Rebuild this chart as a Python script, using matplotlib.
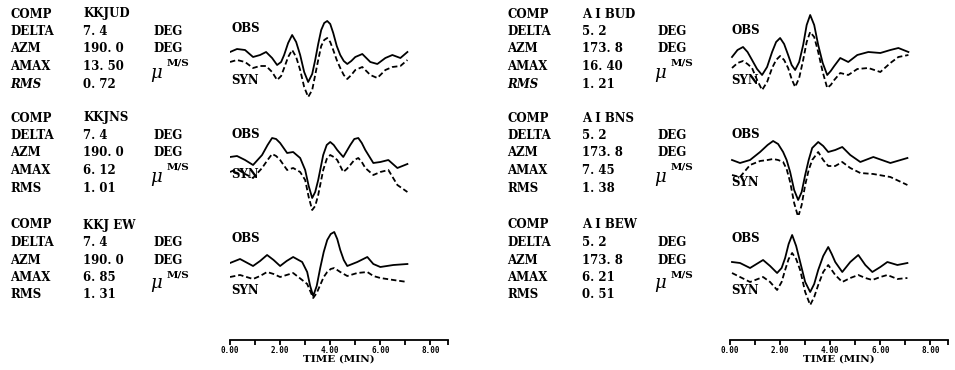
import matplotlib
matplotlib.use("Agg")
import matplotlib.pyplot as plt

# --- station header values -------------------------------------------------
comp_left = ["KKJUD", "KKJNS", "KKJ EW"]
delta_left = ["7. 4", "7. 4", "7. 4"]
azm_left = ["190. 0", "190. 0", "190. 0"]
amax_left = ["13. 50", "6. 12", "6. 85"]
rms_left = ["0. 72", "1. 01", "1. 31"]

comp_right = ["A I BUD", "A I BNS", "A I BEW"]
delta_right = ["5. 2", "5. 2", "5. 2"]
azm_right = ["173. 8", "173. 8", "173. 8"]
amax_right = ["16. 40", "7. 45", "6. 21"]
rms_right = ["1. 21", "1. 38", "0. 51"]

# time axis (minutes)
tick_major = [0, 2, 4, 6, 8]
tick_minor = [1, 3, 5, 7]
tick_labels = ["0.00", "2.00", "4.00", "6.00", "8.00"]

# --- waveforms (time in min, amplitude in arbitrary units) ---
t_kkjud = [0, 0.28, 0.6, 0.92, 1.2, 1.44, 1.68, 1.88, 2.04, 2.16, 2.32, 2.48, 2.64, 2.80,
           2.96, 3.12, 3.28, 3.40, 3.52, 3.64, 3.76, 3.88, 4.0, 4.12, 4.26, 4.40, 4.54,
           4.68, 4.84, 5.0, 5.28, 5.6, 5.88, 6.2, 6.48, 6.8, 7.08]
obs_kkjud = [0, 3, 2, -5, -3, 0, -6, -13, -10, -3, 9, 17, 10, -3,
             -20, -30, -22, -8, 8, 22, 29, 31, 28, 19, 6, -3, -9,
             -12, -9, -5, -2, -10, -12, -6, -3, -6, 0]
syn_kkjud = [0, 2, 0, -6, -4, -4, -10, -18, -14, -6, 5, 12, 5, -8,
             -25, -35, -28, -13, 2, 16, 22, 24, 20, 12, 2, -6, -13,
             -17, -13, -8, -5, -13, -16, -8, -5, -4, 2]

t_kkjns = [0, 0.28, 0.6, 0.92, 1.28, 1.5, 1.68, 1.84, 2.0, 2.28, 2.52, 2.8, 3.0, 3.14,
           3.28, 3.4, 3.52, 3.72, 3.86, 4.0, 4.14, 4.28, 4.52, 4.66, 4.8, 4.96, 5.12,
           5.26, 5.4, 5.72, 6.0, 6.32, 6.68, 7.08]
obs_kkjns = [3, 4, 0, -5, 5, 15, 22, 21, 17, 7, 8, 2, -10, -26,
             -38, -32, -20, 5, 15, 18, 15, 10, 3, 9, 15, 21, 22,
             17, 10, -3, -2, 0, -8, -4]
syn_kkjns = [0, 3, -2, -6, 4, 12, 18, 16, 12, 2, 4, 0, -8, -25,
             -38, -34, -23, 2, 13, 17, 15, 12, 0, 3, 7, 12, 14,
             10, 4, -3, 0, 2, -13, -20]

t_kkjew = [0, 0.4, 0.92, 1.2, 1.48, 1.74, 2.0, 2.26, 2.52, 2.88, 3.08, 3.2, 3.32, 3.46,
           3.6, 3.74, 3.88, 4.02, 4.16, 4.28, 4.4, 4.54, 4.68, 5.08, 5.48, 5.72, 6.0,
           6.52, 7.08]
obs_kkjew = [1, 5, -2, 3, 9, 4, -2, 3, 7, 2, -8, -22, -32, -22,
             -4, 12, 24, 30, 32, 25, 14, 4, -2, 2, 7, 0, -3,
             -1, 0]
syn_kkjew = [0, 2, -2, 1, 5, 3, 0, 2, 4, -3, -7, -14, -21, -16,
             -8, 0, 5, 8, 9, 7, 5, 3, 1, 4, 5, 1, -1,
             -3, -5]

t_aibud = [0.08, 0.3, 0.52, 0.7, 0.88, 1.08, 1.28, 1.48, 1.68, 1.84, 2.0, 2.16, 2.32,
           2.46, 2.60, 2.76, 2.92, 3.06, 3.2, 3.36, 3.52, 3.7, 3.88, 4.02, 4.16, 4.4,
           4.72, 5.08, 5.52, 6.0, 6.4, 6.72, 7.12]
obs_aibud = [0, 7, 10, 5, -3, -12, -18, -10, 5, 15, 19, 13, 2,
             -8, -13, -5, 12, 32, 42, 32, 12, -6, -18, -14, -9, -1,
             -5, 2, 5, 4, 7, 9, 5]
syn_aibud = [2, 7, 9, 6, 2, -10, -20, -12, 2, 10, 14, 10, 2,
             -9, -17, -8, 10, 28, 38, 33, 18, -2, -18, -15, -10, -3,
             -5, 1, 2, -2, 7, 13, 15]

t_aibns = [0.08, 0.4, 0.8, 1.2, 1.5, 1.72, 1.92, 2.12, 2.26, 2.4, 2.56, 2.72, 2.86,
           3.0, 3.14, 3.28, 3.52, 3.72, 3.92, 4.2, 4.48, 4.8, 5.2, 5.72, 6.4, 7.08]
obs_aibns = [0, -3, 0, 8, 15, 19, 16, 8, 0, -12, -30, -40, -32,
             -15, 0, 12, 18, 14, 8, 10, 13, 5, -2, 3, -3, 2]
syn_aibns = [0, -2, 10, 14, 15, 16, 15, 13, 6, -7, -28, -42, -30,
             -10, 5, 15, 23, 15, 9, 9, 13, 7, 2, 1, -2, -10]

t_aibew = [0.08, 0.4, 0.8, 1.32, 1.6, 1.88, 2.06, 2.2, 2.34, 2.48, 2.64, 2.8, 3.0,
           3.2, 3.36, 3.52, 3.72, 3.92, 4.06, 4.2, 4.48, 4.8, 5.12, 5.4, 5.68, 6.0,
           6.28, 6.68, 7.08]
obs_aibew = [2, 1, -4, 4, -2, -9, -4, 6, 20, 29, 18, 2, -18,
             -28, -20, -6, 8, 17, 10, 2, -8, 2, 9, -1, -8, -3,
             2, -1, 1]
syn_aibew = [4, 0, -5, 0, -5, -13, -5, 7, 18, 24, 18, 7, -15,
             -28, -20, -8, 5, 12, 7, 2, -5, -1, 2, -1, -3, 0,
             2, -2, -1]

# --- layout (pixels) ----------------------------------------------------------
W, H = 955, 370
fig = plt.figure(figsize=(W / 100, H / 100), dpi=100)
ax = fig.add_axes([0, 0, 1, 1])
ax.set_xlim(0, W)
ax.set_ylim(H, 0)
ax.axis("off")

SERIF = "DejaVu Serif"
txt = dict(family=SERIF, fontweight="bold", fontsize=8.5, va="center", ha="left", color="black")


def px_axes(x0, y0, x1, y1):
    return fig.add_axes([x0 / W, 1 - y1 / H, (x1 - x0) / W, (y1 - y0) / H])


panels = [
    dict(x_lab=10, x_val=83, x_unit=153, x_wave=230,
         comp=comp_left, delta=delta_left, azm=azm_left, amax=amax_left, rms=rms_left,
         waves=[(t_kkjud, obs_kkjud, syn_kkjud), (t_kkjns, obs_kkjns, syn_kkjns),
                (t_kkjew, obs_kkjew, syn_kkjew)],
         base=[52, 160, 264], off=[10, 12, 13], obs_y=[29, 134, 239], syn_y=[80, 174, 290]),
    dict(x_lab=507, x_val=582, x_unit=657, x_wave=730,
         comp=comp_right, delta=delta_right, azm=azm_right, amax=amax_right, rms=rms_right,
         waves=[(t_aibud, obs_aibud, syn_aibud), (t_aibns, obs_aibns, syn_aibns),
                (t_aibew, obs_aibew, syn_aibew)],
         base=[57, 160, 264], off=[13, 15, 13], obs_y=[30, 134, 239], syn_y=[80, 183, 290]),
]

row_start = [14, 118, 225]
step = 17.5
T_MAX = 8.7
WAVE_W = 218

for p in panels:
    for r in range(3):
        y0 = row_start[r]
        rows = [("COMP", p["comp"][r], None),
                ("DELTA", p["delta"][r], "DEG"),
                ("AZM", p["azm"][r], "DEG"),
                ("AMAX", p["amax"][r], None),
                ("RMS", p["rms"][r], None)]
        for i, (name, val, unit) in enumerate(rows):
            y = y0 + i * step
            style = "italic" if (name == "RMS" and r == 0) else "normal"
            ax.text(p["x_lab"], y, name, style=style, **txt)
            ax.text(p["x_val"], y, val, **txt)
            if unit:
                ax.text(p["x_unit"], y, unit, **txt)
        y_amax = y0 + 3 * step
        ax.text(p["x_unit"] - 3, y_amax + 6, "\u03bc", family=SERIF, style="italic",
                fontsize=13, va="center", ha="left")
        ax.text(p["x_unit"] + 14, y_amax - 3, "M/S", family=SERIF, fontweight="bold",
                fontsize=7.5, va="center", ha="left")

        # OBS / SYN labels
        ax.text(p["x_wave"] + 1, p["obs_y"][r], "OBS", **txt)
        ax.text(p["x_wave"] + 1, p["syn_y"][r], "SYN", **txt)

        # waveforms
        t, obs, syn = p["waves"][r]
        yb = p["base"][r]
        wax = px_axes(p["x_wave"], yb - 50, p["x_wave"] + WAVE_W, yb + 55)
        wax.set_xlim(0, T_MAX)
        wax.set_ylim(-55, 50)
        wax.axis("off")
        wax.patch.set_alpha(0)
        wax.plot(t, obs, color="black", lw=1.3, solid_joinstyle="round")
        off = p["off"][r]
        wax.plot(t, [v - off for v in syn], color="black", lw=1.3, dashes=(3, 1.6))

    # time axis
    tax = px_axes(p["x_wave"], 330, p["x_wave"] + WAVE_W, 340)
    tax.set_xlim(0, T_MAX)
    tax.patch.set_alpha(0)
    for s in ["top", "left", "right"]:
        tax.spines[s].set_visible(False)
    tax.spines["bottom"].set_linewidth(1.3)
    tax.set_yticks([])
    tax.set_xticks(tick_major + [T_MAX])
    tax.set_xticklabels(tick_labels + [""])
    tax.set_xticks(tick_minor, minor=True)
    tax.tick_params(axis="x", which="both", direction="out", length=3.5, width=1.3, pad=1)
    for lab in tax.get_xticklabels():
        lab.set_fontsize(5.5)
        lab.set_fontweight("bold")
        lab.set_family("DejaVu Sans Mono")
    tax.set_xlabel("TIME (MIN)", family=SERIF, fontweight="bold", fontsize=7.5, labelpad=-0.5)

fig.savefig("out.png", dpi=100)
